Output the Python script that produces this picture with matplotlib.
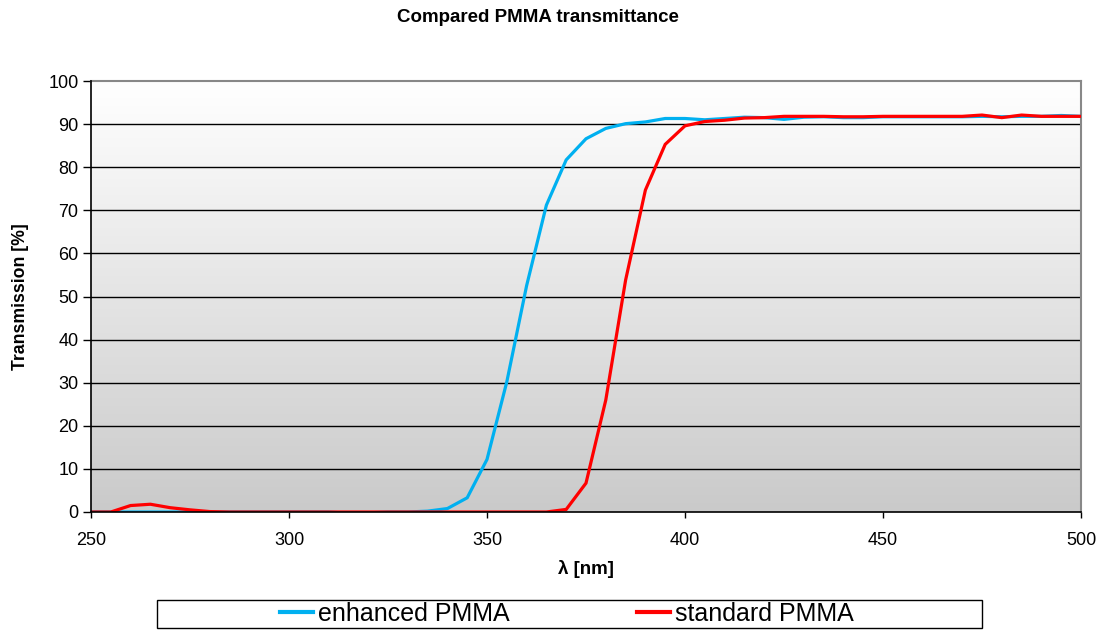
import numpy as np
import matplotlib
matplotlib.use("Agg")
import matplotlib.pyplot as plt
from matplotlib.patches import Rectangle
from matplotlib.lines import Line2D

plt.rcParams['font.family'] = ['Liberation Sans', 'DejaVu Sans']

wavelength = list(range(250, 501, 5))
enhanced = [0, 0, 0, 0, 0, 0, 0, 0, 0, 0,          # 250-295
            0, 0, 0, -0.3, -0.2, 0, 0, 0.2,         # 300-335
            0.8, 3.3, 12.2, 30.2, 52.5, 71.2, 81.7, 86.6, 89.0, 90.1,  # 340-385
            90.5, 91.3, 91.3, 91.0, 91.3, 91.6, 91.5, 91.1, 91.6, 91.7,  # 390-435
            91.5, 91.5, 91.7, 91.7, 91.7, 91.7, 91.7, 91.8, 91.7, 91.8,  # 440-485
            91.8, 92.0, 91.8]                        # 490-500
standard = [0, 0, 1.5, 1.8, 1.0, 0.5, 0.1, 0, 0, 0,     # 250-295
            0, 0, 0, 0, 0, 0, 0, 0,                     # 300-335
            0, 0, 0, 0, 0, 0, 0.6, 6.7, 26.0, 53.8,      # 340-385
            74.7, 85.3, 89.6, 90.6, 90.9, 91.4, 91.5, 91.8, 91.8, 91.8,  # 390-435
            91.7, 91.7, 91.8, 91.8, 91.8, 91.8, 91.8, 92.1, 91.5, 92.1,  # 440-485
            91.8, 91.8, 91.8]                            # 490-500

series_names = ["enhanced PMMA", "standard PMMA"]
series_colors = ["#00B0F0", "#FF0000"]
x_ticks = [250, 300, 350, 400, 450, 500]
y_ticks = list(range(0, 101, 10))

W, H = 1107, 630
fig = plt.figure(figsize=(W / 100, H / 100), dpi=100)
ax = fig.add_axes([91 / W, 1 - 512 / H, (1081 - 91) / W, (512 - 81) / H])

# gradient background
grad = np.linspace(0, 1, 256).reshape(-1, 1)
cmap = matplotlib.colors.LinearSegmentedColormap.from_list("bg", ["#CACACA", "#FFFFFF"])
ax.imshow(grad, extent=[250, 500, 0, 100], origin="lower", aspect="auto", cmap=cmap, zorder=0)

for yv in y_ticks[1:-1]:
    ax.axhline(yv, color="black", lw=1.0, zorder=1)

ax.plot(wavelength, enhanced, color=series_colors[0], lw=2.3, zorder=3, solid_joinstyle="miter")
ax.plot(wavelength, standard, color=series_colors[1], lw=2.3, zorder=4, solid_joinstyle="miter")

ax.set_xlim(250, 500)
ax.set_ylim(0, 100)
ax.set_xticks(x_ticks)
ax.set_yticks(y_ticks)
ax.tick_params(axis="y", direction="out", length=6, width=1, labelsize=13, colors="black", pad=3)
ax.tick_params(axis="x", direction="out", length=4.5, width=1, labelsize=13, colors="black", pad=10)
for s in ["top", "right"]:
    ax.spines[s].set_color("#888888")
    ax.spines[s].set_linewidth(1.5)
for s in ["left", "bottom"]:
    ax.spines[s].set_color("black")
    ax.spines[s].set_linewidth(1.2)
    ax.spines[s].set_zorder(5)

ax.set_xlabel("λ [nm]", fontsize=13.5, fontweight="bold", labelpad=8)
ax.set_ylabel("Transmission [%]", fontsize=12.7, fontweight="bold", labelpad=14)

fig.text(538 / W, 1 - 17 / H, "Compared PMMA transmittance", ha="center", va="center",
         fontsize=13.5, fontweight="bold")

# legend box
rect = Rectangle((157 / W, 1 - 628 / H), (982 - 157) / W, 28 / H,
                 transform=fig.transFigure, facecolor="white", edgecolor="black", lw=1)
fig.add_artist(rect)
handles = [Line2D([], [], color=c, lw=3) for c in series_colors]
fig.legend(handles, series_names, loc="center left", bbox_to_anchor=(280 / W, 1 - 614 / H),
           ncol=2, frameon=False, fontsize=18, handlelength=1.32, handletextpad=0.2,
           columnspacing=5.1, borderpad=0, borderaxespad=0)

fig.savefig("out.png", dpi=100)
